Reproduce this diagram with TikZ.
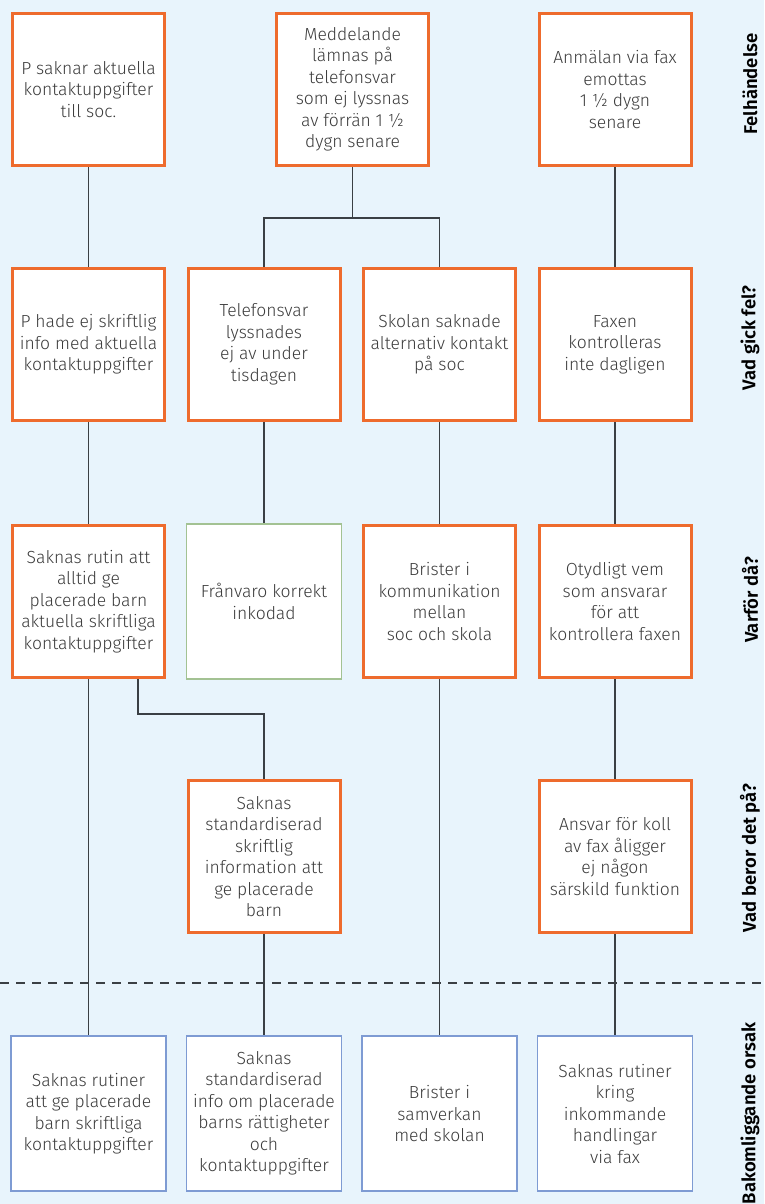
\documentclass[tikz,border=0pt]{standalone}
\usepackage{fontspec}
\setmainfont{Fira Sans Light}[BoldFont={Fira Sans SemiBold}]
\definecolor{bgblue}{HTML}{E8F4FC}
\definecolor{boxorange}{HTML}{EE6B2D}
\definecolor{okgreen}{HTML}{A3C293}
\definecolor{rootblue}{HTML}{7E9BD3}
\definecolor{linegray}{HTML}{3A3F44}
\definecolor{textgray}{HTML}{3C3C3C}
\begin{document}
\begin{tikzpicture}[x=1pt,y=-1pt,
  box/.style={draw, fill=white, minimum width=155pt, minimum height=155pt,
    align=center, inner sep=0pt, text=textgray,
    font=\fontsize{17.5}{21.5}\selectfont},
  cause/.style={box, draw=boxorange, line width=3pt,
    minimum width=152pt, minimum height=152pt},
  okbox/.style={box, draw=okgreen, line width=1.2pt},
  rootbox/.style={box, draw=rootblue, line width=1.4pt},
  link/.style={draw=linegray, line width=1.3pt},
  rowlabel/.style={rotate=90, text=black,
    font=\bfseries\fontsize{18.5}{20}\selectfont}]

% background and page frame
\fill[bgblue] (0,0) rectangle (764,1204);
\useasboundingbox (0,0) rectangle (764,1204);

% separator above the root causes
\draw[linegray, line width=1.2pt, dash pattern=on 9pt off 7pt] (0,983) -- (764,983);

% row 1: incidents
\node[cause] (p1) at (88.5,89.5) {P saknar aktuella\\kontaktuppgifter\\till soc.};
\node[cause] (m1) at (352.5,89.5) {Meddelande\\lämnas på\\telefonsvar\\som ej lyssnas\\av förrän 1 ½\\dygn senare};
\node[cause] (f1) at (615,89.5) {Anmälan via fax\\emottas\\1 ½ dygn\\senare};

% row 2: what went wrong
\node[cause] (p2) at (88.5,344.5) {P hade ej skriftlig\\info med aktuella\\kontaktuppgifter};
\node[cause] (t2) at (264,344.5) {Telefonsvar\\lyssnades\\ej av under\\tisdagen};
\node[cause] (s2) at (439.5,344.5) {Skolan saknade\\alternativ kontakt\\på soc};
\node[cause] (f2) at (615,344.5) {Faxen\\kontrolleras\\inte dagligen};

% row 3: why
\node[cause] (p3) at (88.5,601.5) {Saknas rutin att\\alltid ge\\placerade barn\\aktuella skriftliga\\kontaktuppgifter};
\node[okbox] (t3) at (264,601.5) {Frånvaro korrekt\\inkodad};
\node[cause] (s3) at (439.5,601.5) {Brister i\\kommunikation\\mellan\\soc och skola};
\node[cause] (f3) at (615,601.5) {Otydligt vem\\som ansvarar\\för att\\kontrollera faxen};

% row 4: what does it depend on
\node[cause] (i4) at (264,856.5) {Saknas\\standardiserad\\skriftlig\\information att\\ge placerade\\barn};
\node[cause] (f4) at (615,856.5) {Ansvar för koll\\av fax åligger\\ej någon\\särskild funktion};

% row 5: underlying causes
\node[rootbox] (p5) at (88.5,1113.5) {Saknas rutiner\\att ge placerade\\barn skriftliga\\kontaktuppgifter};
\node[rootbox] (i5) at (264,1113.5) {Saknas\\standardiserad\\info om placerade\\barns rättigheter\\och\\kontaktuppgifter};
\node[rootbox] (s5) at (439.5,1113.5) {Brister i\\samverkan\\med skolan};
\node[rootbox] (f5) at (615,1113.5) {Saknas rutiner\\kring\\inkommande\\handlingar\\via fax};

% row labels
\node[rowlabel] (l1) at (750,84) {Felhändelse};
\node[rowlabel] (l2) at (750,338) {Vad gick fel?};
\node[rowlabel] (l3) at (750,600) {Varför då?};
\node[rowlabel] (l4) at (750,858) {Vad beror det på?};
\node[rowlabel] (l5) at (750,1113.5) {Bakomliggande orsak};

% connectors
\coordinate (fork) at (352.5,218);
\coordinate (bend) at (138,714);
\draw[link] (p1.south) -- (p2.north);
\draw[link] (p2.south) -- (p3.north);
\draw[link] (p3.south) -- (p5.north);
\draw[link] (m1.south) -- (fork);
\draw[link] (t2.north) |- (fork) -| (s2.north);
\draw[link] (t2.south) -- (t3.north);
\draw[link] (s2.south) -- (s3.north);
\draw[link] (s3.south) -- (s5.north);
\draw[link] (f1.south) -- (f2.north);
\draw[link] (f2.south) -- (f3.north);
\draw[link] (f3.south) -- (f4.north);
\draw[link] (f4.south) -- (f5.north);
\draw[link] (p3.south -| bend) -- (bend) -| (i4.north);
\draw[link] (i4.south) -- (i5.north);
\end{tikzpicture}
\end{document}
